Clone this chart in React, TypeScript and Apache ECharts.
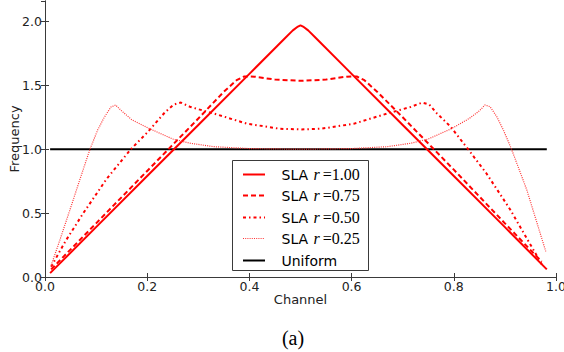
import React, { useEffect, useRef } from "react";
import * as echarts from "echarts";

// ---- data ----
const seriesNames = ["SLA r=1.00", "SLA r=0.75", "SLA r=0.50", "SLA r=0.25", "Uniform"];
const rValues = ["1.00", "0.75", "0.50", "0.25"];

const sla100: number[][] = [
  [0.01, 0.03], [0.1, 0.39], [0.2, 0.79], [0.3, 1.19], [0.4, 1.59], [0.47, 1.87],
  [0.485, 1.93], [0.495, 1.96], [0.5, 1.97], [0.505, 1.96], [0.515, 1.93], [0.53, 1.87],
  [0.6, 1.59], [0.7, 1.19], [0.8, 0.79], [0.9, 0.39], [0.982, 0.06],
];
const sla075: number[][] = [
  [0.012, 0.06], [0.1, 0.42], [0.2, 0.83], [0.3, 1.24], [0.35, 1.45], [0.375, 1.54],
  [0.39, 1.57], [0.41, 1.568], [0.45, 1.545], [0.5, 1.535], [0.55, 1.545], [0.59, 1.568],
  [0.61, 1.57], [0.625, 1.54], [0.65, 1.45], [0.7, 1.25], [0.8, 0.84], [0.9, 0.42], [0.972, 0.12],
];
const sla050: number[][] = [
  [0.012, 0.08], [0.04, 0.28], [0.075, 0.5], [0.121, 0.77], [0.168, 1.0], [0.2, 1.13],
  [0.235, 1.29], [0.252, 1.35], [0.266, 1.365], [0.285, 1.33], [0.33, 1.28], [0.395, 1.2],
  [0.46, 1.16], [0.5, 1.155], [0.54, 1.16], [0.605, 1.2], [0.67, 1.28], [0.715, 1.33],
  [0.738, 1.365], [0.752, 1.35], [0.767, 1.28], [0.793, 1.18], [0.828, 1.0], [0.864, 0.81],
  [0.91, 0.53], [0.972, 0.1],
];
const sla025: number[][] = [
  [0.012, 0.09], [0.03, 0.3], [0.05, 0.54], [0.068, 0.76], [0.088, 1.0], [0.103, 1.15],
  [0.116, 1.25], [0.129, 1.33], [0.138, 1.346], [0.15, 1.3], [0.17, 1.23], [0.205, 1.16],
  [0.25, 1.08], [0.284, 1.047], [0.33, 1.02], [0.4, 1.005], [0.5, 1.0], [0.6, 1.005],
  [0.67, 1.02], [0.716, 1.047], [0.75, 1.08], [0.795, 1.16], [0.83, 1.24], [0.85, 1.3],
  [0.861, 1.346], [0.871, 1.333], [0.884, 1.255], [0.897, 1.151], [0.913, 1.0],
  [0.943, 0.68], [0.98, 0.2],
];
const uniform: number[][] = [[0.01, 1.0], [0.982, 1.0]];

const xTicks = [0, 0.2, 0.4, 0.6, 0.8, 1.0];
const xTickLabels = ["0.0", "0.2", "0.4", "0.6", "0.8", "1.0"];
const yTicks = [0, 0.5, 1.0, 1.5, 2.0];
const yTickLabels = ["0.0", "0.5", "1.0", "1.5", "2.0"];

const SANS = "DejaVu Sans";
const SERIF = "Liberation Serif";
const AXIS = "#3a3a3a";

const styles = [
  { color: "#ff0000", width: 2, dash: "solid" as any },
  { color: "#ff0000", width: 2, dash: [5, 3] as any },
  { color: "#ff0000", width: 2, dash: [3, 3, 1.5, 3] as any },
  { color: "#ff3333", width: 1.2, dash: [1, 1.2] as any },
  { color: "#000000", width: 2, dash: "solid" as any },
];

function tickLabel(ticks: number[], labels: string[]) {
  return (v: number) => {
    const i = ticks.findIndex((t) => Math.abs(t - v) < 1e-6);
    return i >= 0 ? labels[i] : "";
  };
}

export default function App() {
  const ref = useRef<HTMLDivElement>(null);
  useEffect(() => {
    if (!ref.current) return;
    const chart = echarts.init(ref.current, null, { renderer: "svg" });
    const mkLine = (i: number, data: number[][], z: number) => ({
      name: seriesNames[i],
      type: "line",
      data,
      symbol: "none",
      smooth: false,
      z,
      lineStyle: { color: styles[i].color, width: styles[i].width, type: styles[i].dash },
      itemStyle: { color: styles[i].color },
    });

    // legend drawn as graphic elements
    const boxX = 232.5, boxY = 160.5, boxW = 136, boxH = 110;
    const row0 = 174, rowStep = 21.4;
    const legendEls: any[] = [
      {
        type: "rect", shape: { x: boxX, y: boxY, width: boxW, height: boxH },
        style: { fill: "#fff", stroke: AXIS, lineWidth: 1 }, z: 10,
      },
    ];
    seriesNames.forEach((name, i) => {
      const y = Math.round(row0 + i * rowStep) + 0.5;
      const st = styles[i];
      legendEls.push({
        type: "line", shape: { x1: 243, y1: y, x2: 265, y2: y },
        style: { stroke: st.color, lineWidth: st.width, lineDash: st.dash === "solid" ? null : st.dash },
        z: 11,
      });
      const txt = i === 4 ? "{u|Uniform}" : "{s|SLA }{r|r}{n|=" + rValues[i] + "}";
      legendEls.push({
        type: "text", x: 281.5, y: y, z: 11,
        style: {
          text: txt, verticalAlign: "middle", align: "left",
          rich: {
            s: { fontFamily: SANS, fontSize: 14, fill: "#000" },
            u: { fontFamily: SANS, fontSize: 14, fill: "#000" },
            r: { fontFamily: SERIF, fontStyle: "italic", fontSize: 16, fill: "#000", padding: [0, 3, 0, 1] },
            n: { fontFamily: SERIF, fontSize: 16, fill: "#000" },
          },
        },
      });
    });

    chart.setOption({
      animation: false,
      backgroundColor: "#fff",
      grid: { left: 45, right: 8, top: 1, bottom: 75, show: false, outerBoundsMode: "none", containLabel: false },
      xAxis: [
        {
          type: "value", min: 0, max: 1, interval: 0.2, position: "bottom",
          axisLine: { show: true, lineStyle: { color: AXIS, width: 1 } },
          axisTick: { show: true, inside: true, length: 4, lineStyle: { color: AXIS } },
          axisLabel: { formatter: tickLabel(xTicks, xTickLabels), margin: 3, color: "#222", fontSize: 12.5, fontFamily: SANS },
          splitLine: { show: false },
          name: "Channel", nameLocation: "middle", nameGap: 16, nameMoveOverlap: false,
          nameTextStyle: { color: "#222", fontSize: 13, fontFamily: SANS },
        },
        {
          type: "value", min: 0, max: 1, interval: 0.2, position: "top",
          axisLine: { show: true, lineStyle: { color: AXIS, width: 1 } },
          axisTick: { show: true, inside: true, length: 4, lineStyle: { color: AXIS } },
          axisLabel: { show: false }, splitLine: { show: false },
        },
      ],
      yAxis: [
        {
          type: "value", min: 0, max: 2.16, interval: 0.5, position: "left",
          axisLine: { show: true, lineStyle: { color: AXIS, width: 1 } },
          axisTick: { show: true, inside: true, length: 4, lineStyle: { color: AXIS } },
          axisLabel: { formatter: tickLabel(yTicks, yTickLabels), margin: 3, color: "#222", fontSize: 12.5, fontFamily: SANS, showMaxLabel: false },
          splitLine: { show: false },
          name: "Frequency", nameLocation: "middle", nameGap: 24, nameMoveOverlap: false,
          nameTextStyle: { color: "#222", fontSize: 13, fontFamily: SANS },
        },
        {
          type: "value", min: 0, max: 2.16, interval: 0.5, position: "right",
          axisLine: { show: true, lineStyle: { color: AXIS, width: 1 } },
          axisTick: { show: true, inside: true, length: 4, lineStyle: { color: AXIS } },
          axisLabel: { show: false }, splitLine: { show: false },
        },
      ],
      series: [
        mkLine(4, uniform, 2),
        mkLine(0, sla100, 3),
        mkLine(1, sla075, 3),
        mkLine(2, sla050, 3),
        mkLine(3, sla025, 3),
      ],
      graphic: [
        ...legendEls,
        {
          type: "text", x: 293, y: 338,
          style: { text: "(a)", fontFamily: SERIF, fontSize: 20, fill: "#000", align: "center", verticalAlign: "middle" },
        },
      ],
    });
    return () => chart.dispose();
  }, []);
  return <div ref={ref} style={{ width: 564, height: 352, position: "absolute", left: 0, top: 0 }} />;
}
